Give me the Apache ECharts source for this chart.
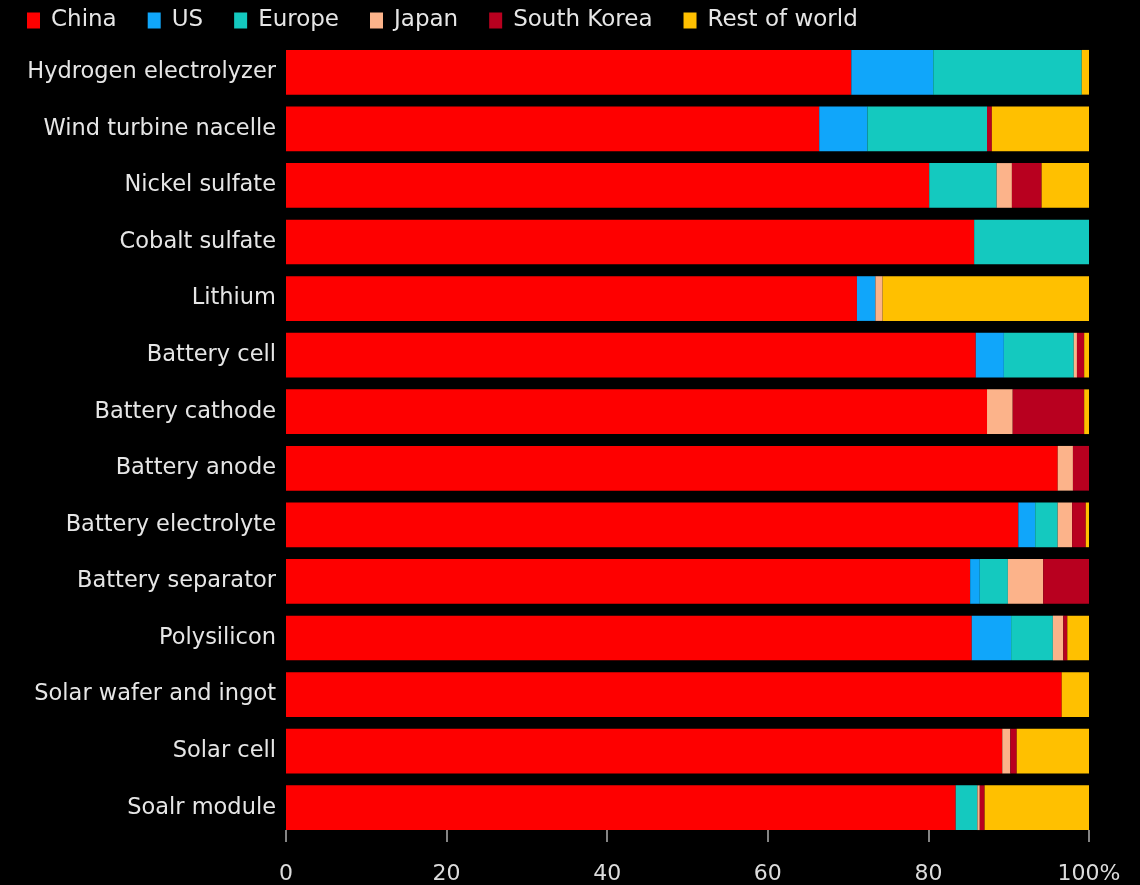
<!DOCTYPE html>
<html>
<head>
<meta charset="utf-8">
<script src="https://cdn.jsdelivr.net/npm/echarts@6/dist/echarts.min.js"></script>
<style>
html,body{margin:0;padding:0;background:#000;}
#chart{width:1140px;height:885px;}
</style>
</head>
<body>
<div id="chart"></div>
<script>
const categories = ["Hydrogen electrolyzer","Wind turbine nacelle","Nickel sulfate","Cobalt sulfate","Lithium","Battery cell","Battery cathode","Battery anode","Battery electrolyte","Battery separator","Polysilicon","Solar wafer and ingot","Solar cell","Soalr module"];
const seriesNames = ["China","US","Europe","Japan","South Korea","Rest of world"];
const china      = [70.4, 66.4, 80.1, 85.7, 71.1, 85.9, 87.3, 96.1, 91.2, 85.2, 85.4, 96.6, 89.2, 83.4];
const us         = [10.2,  6.0,  0,    0,    2.3,  3.5,  0,    0,    2.1,  1.2,  4.9,  0,    0,    0];
const europe     = [18.5, 14.9,  8.4, 14.3,  0,    8.7,  0,    0,    2.8,  3.5,  5.2,  0,    0,    2.7];
const japan      = [0,     0,    1.9,  0,    0.9,  0.4,  3.2,  1.9,  1.8,  4.4,  1.3,  0,    1.0,  0.3];
const southKorea = [0,     0.6,  3.7,  0,    0,    0.9,  8.9,  2.0,  1.7,  5.7,  0.5,  0,    0.8,  0.6];
const restOfWorld= [0.9,  12.1,  5.9,  0,   25.7,  0.6,  0.6,  0,    0.4,  0,    2.7,  3.4,  9.0, 13.0];
const xTicks = [0, 20, 40, 60, 80, 100];

const colors = ['#fe0000','#10a6fa','#14c9bf','#fcb38a','#b8001f','#ffc000'];
const values = [china, us, europe, japan, southKorea, restOfWorld];
const FONT = 'DejaVu Sans';

const chart = echarts.init(document.getElementById('chart'), null, {renderer:'canvas'});
chart.setOption({
  backgroundColor: '#000',
  animation: false,
  color: colors,
  textStyle: {fontFamily: FONT},
  legend: {
    left: 27, top: 9, padding: 0,
    icon: 'rect', itemWidth: 13, itemHeight: 16, itemGap: 31,
    textStyle: {color: '#e6e6e6', fontSize: 23, fontFamily: FONT, padding: [0,0,0,6]},
    data: seriesNames
  },
  grid: {left: 286, right: 51, top: 44, bottom: 49, containLabel: false},
  xAxis: {
    type: 'value', min: 0, max: 100, interval: 20, offset: -6,
    axisLine: {show: false},
    axisTick: {show: true, length: 12, lineStyle: {color: '#b0b0b0', width: 1.5}},
    splitLine: {show: false},
    axisLabel: {
      color: '#dcdcdc', fontSize: 22, fontFamily: FONT, margin: 33,
      formatter: v => xTicks.indexOf(v) === xTicks.length - 1 ? v + '%' : String(v)
    }
  },
  yAxis: {
    type: 'category', inverse: true, data: categories,
    axisLine: {show: false}, axisTick: {show: false},
    axisLabel: {color: '#e6e6e6', fontSize: 22.5, fontFamily: FONT, margin: 10}
  },
  series: seriesNames.map((name, i) => ({
    name, type: 'bar', stack: 'total', data: values[i],
    barCategoryGap: '21%',
    itemStyle: {color: colors[i]}
  }))
});
</script>
</body>
</html>
